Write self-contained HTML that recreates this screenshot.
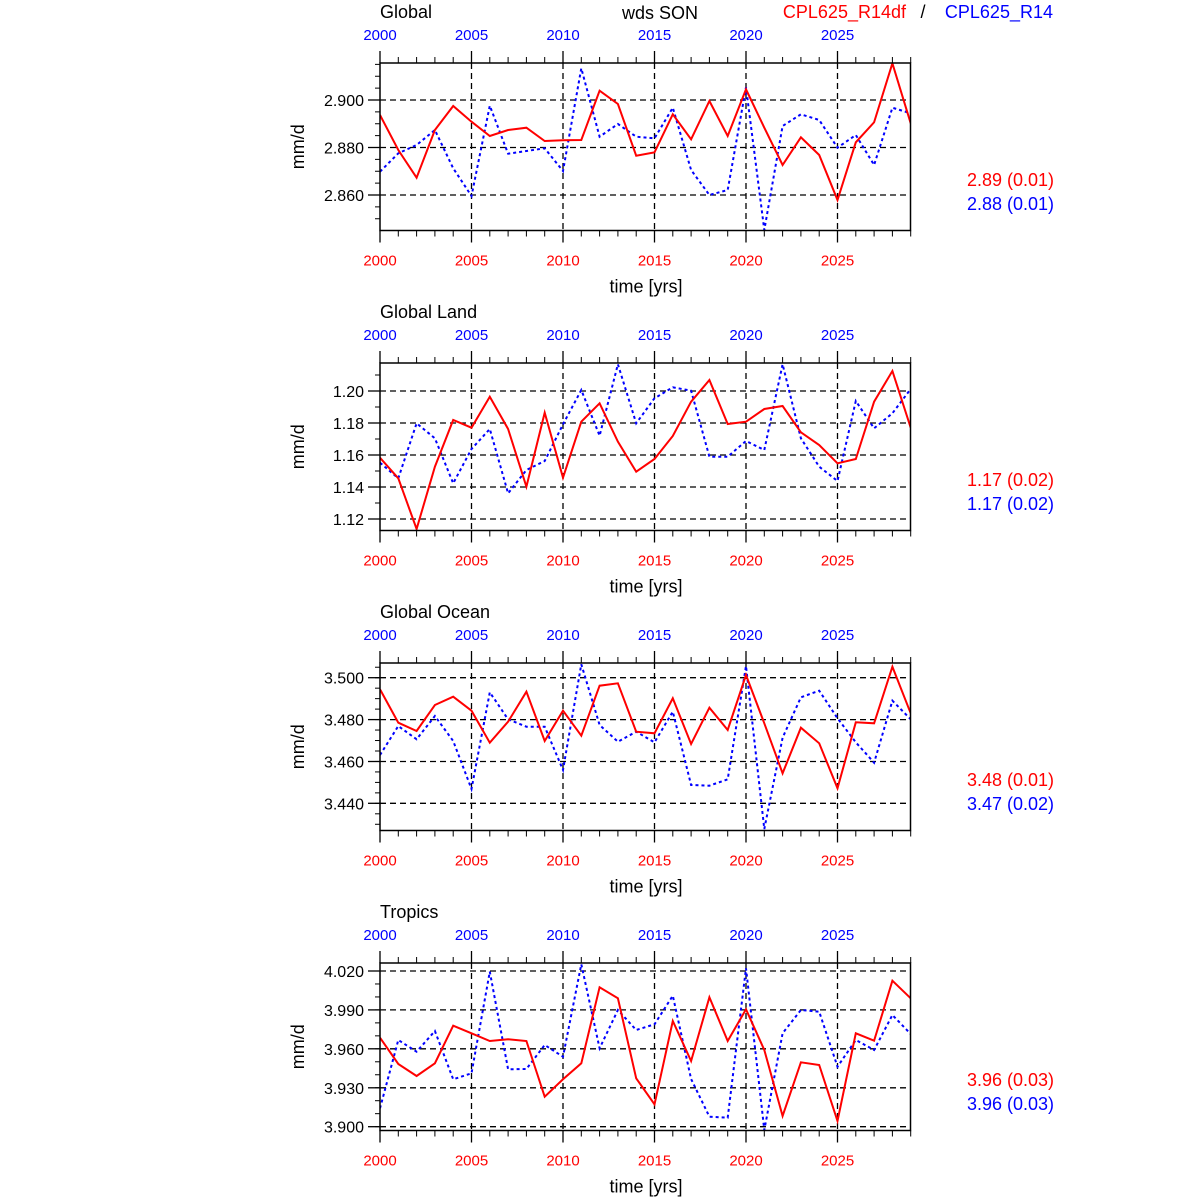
<!DOCTYPE html>
<html><head><meta charset="utf-8"><style>
html,body{margin:0;padding:0;background:#fff;}
svg{display:block;font-family:"Liberation Sans",Arial,sans-serif;}
</style></head><body>
<svg id="s" width="1200" height="1200" viewBox="0 0 1200 1200" xmlns="http://www.w3.org/2000/svg">
<text x="380" y="18" font-size="18">Global</text>
<text x="660" y="19" font-size="18" text-anchor="middle">wds SON</text>
<text x="906" y="18" font-size="18" fill="#f00" text-anchor="end">CPL625_R14df</text>
<text x="923" y="18" font-size="18" text-anchor="middle">/</text>
<text x="1053" y="18" font-size="18" fill="#00f" text-anchor="end">CPL625_R14</text>
</svg>
<script>
var P=[
{off:55,title:null,labs:["2.900","2.880","2.860"],maj:[100,147.5,195],minStep:11.875,st:["2.89 (0.01)","2.88 (0.01)"],
r:[180,285,368,225,153,200,243,225,218,258,256,255,107,147,302,292,178,253,138,243,103,218,330,247,300,435,262,202,25,205],
b:[350,295,270,225,340,423,152,296,288,280,348,40,245,207,245,250,158,345,420,405,97,525,213,178,195,278,240,330,158,175]},
{off:355,title:"Global Land",labs:["1.20","1.18","1.16","1.14","1.12"],maj:[391,423,455,487,519],minStep:16,st:["1.17 (0.02)","1.17 (0.02)"],
r:[308,370,522,335,195,218,125,222,395,173,368,200,145,260,350,312,243,140,75,207,200,162,153,232,270,325,312,140,48,218],
b:[323,370,205,250,385,282,222,415,345,318,208,105,242,28,205,130,97,107,305,305,258,285,28,250,335,378,138,220,175,102]},
{off:655,title:"Global Ocean",labs:["3.500","3.480","3.460","3.440"],maj:[677.7,719.6,761.5,803.3],minStep:10.47,st:["3.48 (0.01)","3.47 (0.02)"],
r:[103,203,228,150,125,167,263,200,110,258,167,242,92,85,230,235,130,267,158,225,60,205,355,218,265,400,202,205,35,175],
b:[300,213,253,183,258,402,112,193,215,215,345,28,210,260,230,262,170,390,392,373,33,522,248,127,107,190,262,323,137,193]},
{off:955,title:"Tropics",labs:["4.020","3.990","3.960","3.930","3.900"],maj:[971,1009.9,1048.8,1087.8,1126.7],minStep:12.97,st:["3.96 (0.03)","3.96 (0.03)"],
r:[248,327,363,325,212,235,258,253,258,425,373,325,97,130,370,448,198,318,127,258,163,285,483,322,330,498,235,257,77,130],
b:[460,255,290,228,373,355,50,343,342,270,305,28,280,165,225,208,122,372,485,488,40,525,235,165,170,335,255,285,180,237]}
];
var s='',X0=380,X1=910.5,dx=18.3;
P.forEach(function(p,k){
 var top=63+300*k,bot=230.5+300*k;
 if(p.title) s+='<text x="380" y="'+(top-45)+'" font-size="18">'+p.title+'</text>';
 // grid
 p.maj.forEach(function(y){s+='<line x1="380" y1="'+y+'" x2="910" y2="'+y+'" stroke="#000" stroke-width="1.3" stroke-dasharray="6,4"/>';});
 for(var yr=5;yr<30;yr+=5){var x=X0+yr*dx;s+='<line x1="'+x+'" y1="'+top+'" x2="'+x+'" y2="'+bot+'" stroke="#000" stroke-width="1.3" stroke-dasharray="6,4"/>';}
 // y ticks
 var m0=p.maj[0];
 for(var y=m0;y>top;y-=p.minStep){s+='<line x1="375" y1="'+y+'" x2="380" y2="'+y+'" stroke="#000"/>';}
 for(var y=m0;y<bot;y+=p.minStep){s+='<line x1="375" y1="'+y+'" x2="380" y2="'+y+'" stroke="#000"/>';}
 p.maj.forEach(function(y,i){s+='<line x1="368" y1="'+y+'" x2="380" y2="'+y+'" stroke="#000" stroke-width="1.3"/>';
  s+='<text x="364" y="'+(y+6)+'" font-size="16" text-anchor="end">'+p.labs[i]+'</text>';});
 // x ticks
 for(var yr=0;yr<30;yr++){var x=X0+yr*dx,L=(yr%5==0)?12:6;
  s+='<line x1="'+x+'" y1="'+(top-L)+'" x2="'+x+'" y2="'+top+'" stroke="#000" stroke-width="'+(L>6?1.3:1)+'"/>';
  s+='<line x1="'+x+'" y1="'+bot+'" x2="'+x+'" y2="'+(bot+L)+'" stroke="#000" stroke-width="'+(L>6?1.3:1)+'"/>';
  if(yr%5==0){s+='<text x="'+x+'" y="'+(top-23)+'" font-size="15" fill="#00f" text-anchor="middle">'+(2000+yr)+'</text>';
   s+='<text x="'+x+'" y="'+(bot+35)+'" font-size="15" fill="#f00" text-anchor="middle">'+(2000+yr)+'</text>';}}
 s+='<text x="646" y="'+(bot+62)+'" font-size="18" text-anchor="middle">time [yrs]</text>';
 var cy=(top+bot)/2;
 s+='<text x="0" y="0" font-size="18" text-anchor="middle" transform="translate(304,'+cy+') rotate(-90)">mm/d</text>';
 // series
 function pts(a){return a.map(function(z,i){return (X0+i*dx).toFixed(1)+','+(p.off+z/3).toFixed(1);}).join(' ');}
 s+='<svg x="380" y="'+top+'" width="531" height="'+(bot-top)+'" viewBox="380 '+top+' 531 '+(bot-top)+'" overflow="hidden">';
 s+='<polyline points="'+pts(p.b)+'" fill="none" stroke="#00f" stroke-width="2" stroke-dasharray="3,3"/>';
 s+='<polyline points="'+pts(p.r)+'" fill="none" stroke="#f00" stroke-width="2"/>';
 s+='</svg>';
 s+='<rect x="380" y="'+top+'" width="530.5" height="'+(bot-top)+'" fill="none" stroke="#000" stroke-width="1.5"/>';
 s+='<text x="1054" y="'+(179+300*k+7)+'" font-size="18" fill="#f00" text-anchor="end">'+p.st[0]+'</text>';
 s+='<text x="1054" y="'+(203+300*k+7)+'" font-size="18" fill="#00f" text-anchor="end">'+p.st[1]+'</text>';
});
document.getElementById('s').insertAdjacentHTML('beforeend',s);
</script>
</body></html>
